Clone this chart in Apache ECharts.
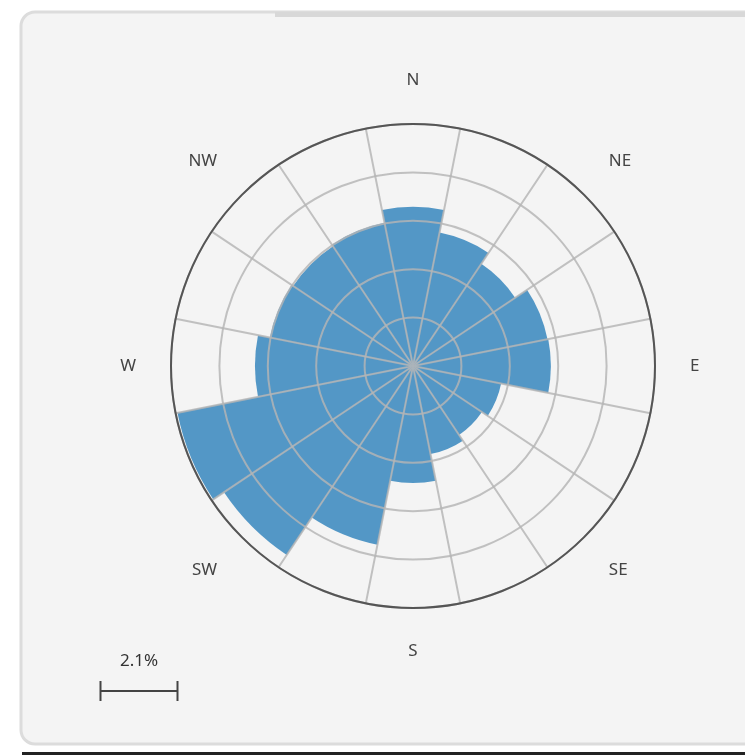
<!DOCTYPE html>
<html>
<head>
<meta charset="utf-8">
<script src="https://cdn.jsdelivr.net/npm/echarts@6/dist/echarts.min.js"></script>
<style>
  html, body { margin: 0; padding: 0; background: #ffffff; }
  #chart { width: 745px; height: 755px; }
</style>
</head>
<body>
<div id="chart"></div>
<script>
// wind directions, clockwise from north
var directions = ['N', 'NNE', 'NE', 'ENE', 'E', 'ESE', 'SE', 'SSE',
                  'S', 'SSW', 'SW', 'WSW', 'W', 'WNW', 'NW', 'NNW'];
// frequency per direction, in %
var frequencies = [4.34, 3.71, 3.35, 3.74, 3.76, 2.45, 2.26, 2.45,
                   3.19, 4.97, 6.2, 6.55, 4.31, 3.98, 3.93, 3.98];
var radiusMax = 6.6;
var ringStep = 1.32;
var scaleValue = 2.1;
var scaleLabel = '2.1%';

var polarRadius = 242;
var scaleLen = scaleValue / radiusMax * polarRadius;

var chart = echarts.init(document.getElementById('chart'));

var gridStyle = { color: 'rgba(180,180,180,0.82)', width: 2 };

var option = {
    animation: false,
    graphic: [
        { type: 'rect', z: -10, shape: { x: 21, y: 12, width: 760, height: 732, r: 14 },
          style: { fill: '#f4f4f4', stroke: '#dcdcdc', lineWidth: 3 } },
        { type: 'rect', z: -9, shape: { x: 275, y: 12, width: 470, height: 5 },
          style: { fill: '#d8d8d8' } },
        { type: 'rect', z: -9, shape: { x: 22, y: 752, width: 723, height: 3 },
          style: { fill: '#222222' } },
        {
            type: 'group', left: 98, top: 653,
            children: [
                { type: 'line', shape: { x1: 0, y1: 38, x2: scaleLen, y2: 38 },
                  style: { stroke: '#444', lineWidth: 2 } },
                { type: 'line', shape: { x1: 0, y1: 28, x2: 0, y2: 48 },
                  style: { stroke: '#444', lineWidth: 2 } },
                { type: 'line', shape: { x1: scaleLen, y1: 28, x2: scaleLen, y2: 48 },
                  style: { stroke: '#444', lineWidth: 2 } },
                { type: 'text', x: scaleLen / 2, y: 0,
                  style: { text: scaleLabel, fill: '#333', font: '17px "Noto Sans"', align: 'center' } }
            ]
        }
    ],
    polar: {
        center: [413, 366],
        radius: polarRadius
    },
    angleAxis: {
        type: 'category',
        data: directions,
        startAngle: 90 + 180 / directions.length,
        clockwise: true,
        z: 5,
        axisLine: { show: true, lineStyle: { color: '#555', width: 2 } },
        axisTick: { show: false, interval: 0 },
        axisLabel: {
            interval: 0,
            margin: 35,
            color: '#444',
            fontSize: 17,
            fontFamily: 'Noto Sans',
            // only the eight main points are named
            formatter: function (value, index) {
                return index % 2 === 0 ? value : '';
            }
        },
        splitLine: { show: true, interval: 0, lineStyle: gridStyle }
    },
    radiusAxis: {
        type: 'value',
        min: 0,
        max: radiusMax,
        interval: ringStep,
        z: 5,
        axisLine: { show: false },
        axisTick: { show: false },
        axisLabel: { show: false },
        splitLine: { show: true, lineStyle: gridStyle }
    },
    series: [{
        type: 'bar',
        coordinateSystem: 'polar',
        data: frequencies,
        barCategoryGap: '0%',
        z: 2,
        itemStyle: { color: '#5397c6' }
    }]
};

chart.setOption(option);
</script>
</body>
</html>
